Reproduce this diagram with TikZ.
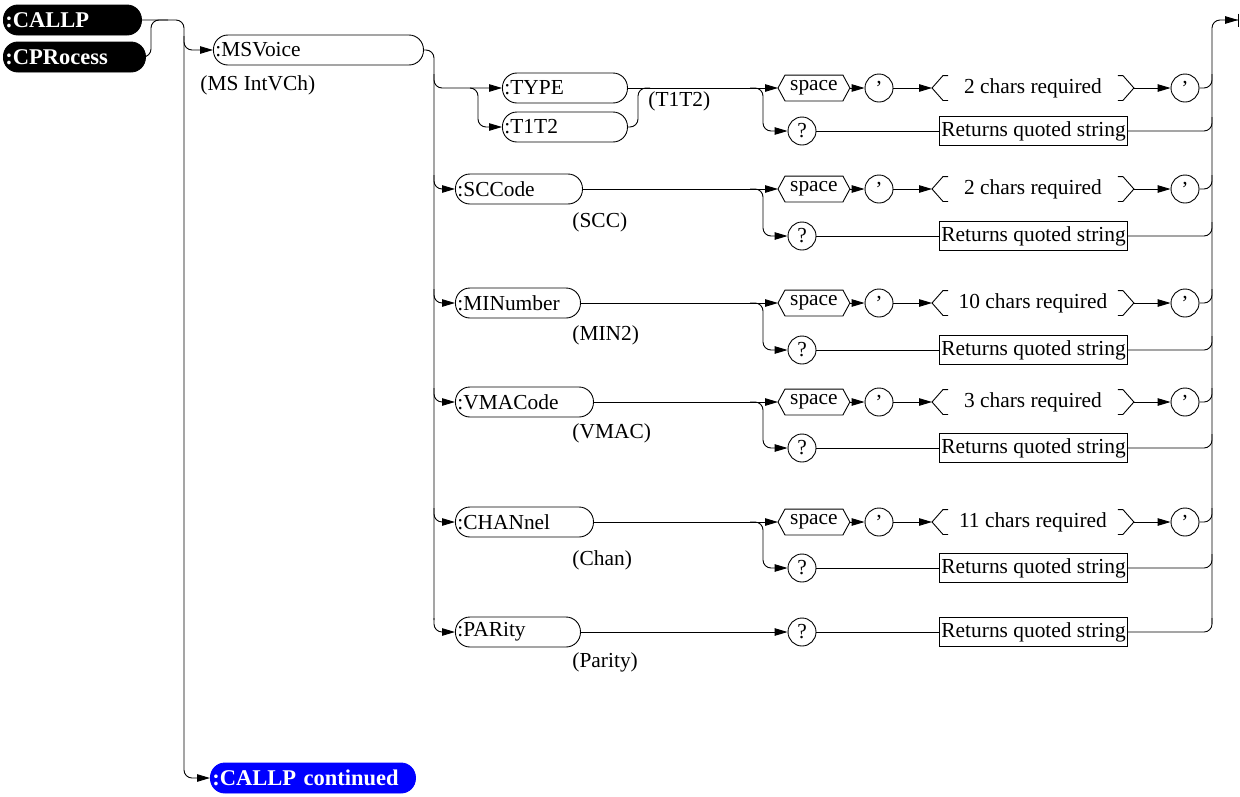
\documentclass[tikz,border=0pt]{standalone}
\usepackage{fontspec}
\setmainfont{Liberation Serif}
\usetikzlibrary{arrows.meta,calc,positioning}
\definecolor{contblue}{RGB}{0,0,255}

\begin{document}
\begin{tikzpicture}[x=1pt,y=-1pt,line width=0.9pt,
    font=\fontsize{21.4}{24}\selectfont,
    arr/.style={-{Triangle[length=13pt,width=7.5pt]}},
    wire/.style={rounded corners=8pt},
    pill/.style={draw,rounded corners=14.5pt,minimum height=30pt,inner xsep=2pt,inner ysep=0pt,
        text width=#1,align=left,anchor=west},
    blackpill/.style={pill=#1,fill=black,text=white,font=\fontsize{22.5}{24}\selectfont\bfseries},
    bluepill/.style={pill=#1,draw=contblue,fill=contblue,text=white,font=\fontsize{22.5}{24}\selectfont\bfseries},
    ring/.style={draw,circle,minimum size=28pt,inner sep=0pt},
    retbox/.style={draw,minimum height=29pt,inner xsep=2pt,inner ysep=0pt,anchor=west},
    spacetag/.style={minimum width=71pt,minimum height=25pt,inner sep=0pt,anchor=west},
    chars/.style={minimum width=201pt,minimum height=24pt,inner sep=0pt,anchor=west},
    lbl/.style={anchor=west,inner sep=0pt}]
    \useasboundingbox (0,0) rectangle (1240,796);

    % root keywords
    \node[blackpill=134pt] (callp) at (3,20) {:CALLP};
    \node[blackpill=138pt] (cproc) at (3,57) {:CPRocess};
    \node[bluepill=201pt] (cont) at (210,778) {:CALLP continued};
    \draw[wire,arr] (callp) -- (184,20) -- (184,778) -- (cont);
    \draw[wire] (cproc) -- (151,57) -- (151,20) -- (168,20);

    % MSVoice subsystem
    \node[pill=206pt] (msv) at (213,50) {:MSVoice};
    \node[lbl] (msvlbl) at (200,85) {(MS IntVCh)};
    \draw[wire,arr] (184,36) -- (184,50) -- (msv);
    \draw[wire] (msv) -- (434,50) -- (434,620);

    % TYPE / T1T2
    \node[pill=121pt] (type) at (502,88) {:TYPE};
    \node[pill=121pt] (tt) at (502,127) {:T1T2};
    \node[lbl] (ttlbl) at (648,101) {(T1T2)};
    \draw[wire,arr] (434,74) -- (434,88) -- (type);
    \draw[wire,arr] (470,88) -- (478,88) -- (478,127) -- (tt);
    \draw[wire] (tt) -- (638,127) -- (638,88) -- (650,88);

    % other commands
    \foreach \nm/\txt/\w/\y/\lab/\ly in {scc/:SCCode/123/189/(SCC)/222,
        min/:MINumber/121/303/(MIN2)/335, vmac/:VMACode/134/402/(VMAC)/433,
        chan/:CHANnel/134/522/(Chan)/560, par/:PARity/121/632/(Parity)/662} {
        \node[pill=\w pt] (\nm) at (455,\y) {\txt};
        \node[lbl] (\nm lbl) at (572,\ly) {\lab};
        \draw[wire,arr] (434,\y-14) -- (434,\y) -- (\nm);
    }

    % set / query paths
    \foreach \src/\y/\q/\n in {type/88/131/2, scc/189/236/2, min/303/350/10,
        vmac/402/448/3, chan/522/568/11} {
        \node[spacetag] (sp\src) at (778,\y) {space};
        \draw (sp\src.west) -- ([xshift=7pt]sp\src.north west) -- ([xshift=-7pt]sp\src.north east)
            -- (sp\src.east) -- ([xshift=-7pt]sp\src.south east) -- ([xshift=7pt]sp\src.south west) -- cycle;
        \node[ring] (qa\src) at (879,\y) {’};
        \node[chars] (br\src) at (932,\y) {\n\ chars required};
        \draw ([xshift=16pt]br\src.north west) -- ([xshift=11pt]br\src.north west) -- (br\src.west)
            -- ([xshift=11pt]br\src.south west) -- ([xshift=16pt]br\src.south west);
        \draw ([xshift=-16pt]br\src.north east) -- ([xshift=-11pt]br\src.north east) -- (br\src.east)
            -- ([xshift=-11pt]br\src.south east) -- ([xshift=-16pt]br\src.south east);
        \node[ring] (qb\src) at (1185,\y) {’};
        \node[ring] (ask\src) at (802,\q) {?};
        \node[retbox] (ret\src) at (939,\q) {Returns quoted string};
        \draw[arr] (\src) -- (sp\src);
        \draw[wire,arr] (750,\y) -- (763,\y) -- (763,\q) -- (ask\src);
        \draw[arr] (sp\src) -- (qa\src);
        \draw[arr] (qa\src) -- (br\src.west);
        \draw[arr] (br\src.east) -- (qb\src);
        \draw[wire] (qb\src) -- (1212,\y) -- (1212,\y-14);
        \draw (ask\src) -- (ret\src);
        \draw[wire] (ret\src) -- (1212,\q) -- (1212,\q-14);
    }

    % PARity is query only
    \node[ring] (askpar) at (802,632) {?};
    \node[retbox] (retpar) at (939,632) {Returns quoted string};
    \draw[arr] (par) -- (askpar);
    \draw (askpar) -- (retpar);
    \draw[wire] (retpar) -- (1212,632) -- (1212,618);

    % exit
    \coordinate (exit) at (1239,20);
    \draw[wire,-{Triangle[length=13pt,width=7.5pt]Bar[width=13pt]}] (1212,624) -- (1212,20) -- (exit);
\end{tikzpicture}
\end{document}
